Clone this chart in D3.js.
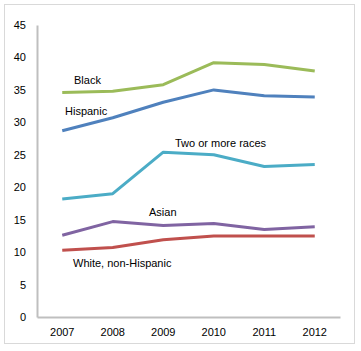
<!DOCTYPE html>
<html>
<head>
<meta charset="utf-8">
<script src="https://cdn.jsdelivr.net/npm/d3@7/dist/d3.min.js"></script>
<style>
  body { margin: 0; background: #fff; }
  text { font-family: "Liberation Sans", Arial, sans-serif; }
</style>
</head>
<body>
<div id="chart"></div>
<script>
// data
const years = ["2007", "2008", "2009", "2010", "2011", "2012"];
const black = [34.6, 34.8, 35.8, 39.2, 38.9, 37.9];
const hispanic = [28.7, 30.7, 33.1, 35.0, 34.1, 33.9];
const twoOrMore = [18.2, 19.0, 25.4, 25.0, 23.2, 23.5];
const asian = [12.6, 14.7, 14.1, 14.4, 13.5, 13.9];
const white = [10.3, 10.7, 11.9, 12.5, 12.5, 12.5];
const yTicks = [0, 5, 10, 15, 20, 25, 30, 35, 40, 45];

const series = [
  { name: "Black", values: black, color: "#9bbb59", lx: 74, ly: 84 },
  { name: "Hispanic", values: hispanic, color: "#4f81bd", lx: 65, ly: 115 },
  { name: "Two or more races", values: twoOrMore, color: "#4bacc6", lx: 175, ly: 147 },
  { name: "Asian", values: asian, color: "#8064a2", lx: 149, ly: 216 },
  { name: "White, non-Hispanic", values: white, color: "#c0504d", lx: 73, ly: 267 }
];

const W = 361, H = 351;
const svg = d3.select("#chart").append("svg")
  .attr("width", W).attr("height", H);

// outer frame
svg.append("rect")
  .attr("x", 4.5).attr("y", 4.5)
  .attr("width", 350).attr("height", 339)
  .attr("fill", "#fff").attr("stroke", "#d9d9d9");

let x = d3.scaleBand().domain(years).range([37, 340]);
let y = d3.scaleLinear().domain([0, 45]).range([317, 25]);

// y axis
let yAxis = svg.append("g")
  .attr("transform", "translate(37,0)")
  .call(d3.axisLeft(y).tickValues(yTicks).tickSize(0).tickPadding(11));
yAxis.select(".domain").attr("stroke", "#bfbfbf").attr("stroke-width", 2);
yAxis.selectAll("text").attr("font-size", 11).attr("fill", "#000");

// x axis
let xAxis = svg.append("g")
  .attr("transform", "translate(0,317)")
  .call(d3.axisBottom(x).tickSize(0).tickPadding(11));
xAxis.select(".domain").attr("stroke", "#bfbfbf").attr("stroke-width", 2);
xAxis.selectAll("text").attr("font-size", 11).attr("fill", "#000");

let line = d3.line()
  .x((d, i) => x(years[i]) + x.bandwidth() / 2)
  .y(d => y(d));

series.forEach(s => {
  svg.append("path")
    .attr("d", line(s.values))
    .attr("fill", "none")
    .attr("stroke", s.color)
    .attr("stroke-width", 3)
    .attr("stroke-linejoin", "round");
  svg.append("text")
    .attr("x", s.lx).attr("y", s.ly)
    .attr("font-size", 11)
    .text(s.name);
});
</script>
</body>
</html>
